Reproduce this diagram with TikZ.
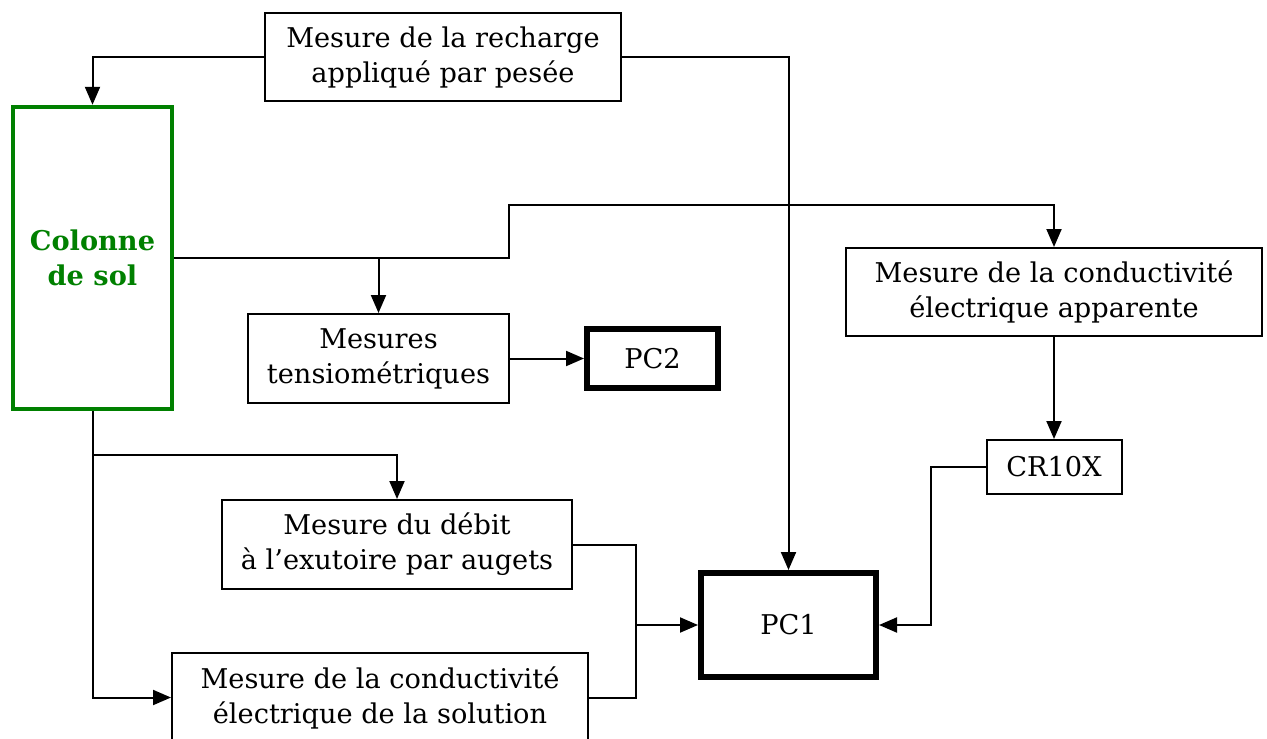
\documentclass[tikz,border=0pt]{standalone}
\usepackage{fontspec}
\setmainfont{DejaVu Serif}
\usetikzlibrary{arrows.meta}
\definecolor{soilgreen}{RGB}{0,128,0}
\begin{document}
\begin{tikzpicture}[x = 0.5pt, y = -0.5pt,
        every node/.style={font=\fontsize{13.6pt}{17.5pt}\selectfont, align=center, inner sep=0pt},
        every path/.style={-{Triangle[length=9pt,width=7.5pt]}, line width=1pt}
]
\tikzstyle{block}= [draw, rectangle, line width=1pt]
\tikzstyle{pc}= [draw, rectangle, line width=3pt]
    \useasboundingbox (0,0) rectangle (1267,738);
    \node[block, minimum width=178pt, minimum height=44pt] (recharge) at (443,57) {Mesure de la recharge\\appliqué par pesée};
    \node[draw=soilgreen, line width=2.2pt, minimum width=79.5pt, minimum height=151pt, text=soilgreen, font=\fontsize{13.6pt}{17.5pt}\selectfont\bfseries] (colonne) at (92.5,258) {Colonne\\de sol};
    \node[block, minimum width=130.5pt, minimum height=44.5pt] (tensio) at (378.5,358.5) {Mesures\\tensiométriques};
    \node[pc, minimum width=65.5pt, minimum height=29.5pt] (pc2) at (652.5,358.5) {PC2};
    \node[block, minimum width=208pt, minimum height=44pt] (apparente) at (1054,292) {Mesure de la conductivité\\électrique apparente};
    \node[block, minimum width=67.5pt, minimum height=27pt] (cr10x) at (1054,467) {CR10X};
    \node[block, minimum width=175pt, minimum height=44.5pt] (debit) at (397,544.5) {Mesure du débit\\à l’exutoire par augets};
    \node[pc, minimum width=87.5pt, minimum height=52pt] (pc1) at (788.5,625) {PC1};
    \node[block, minimum width=208pt, minimum height=44.5pt] (solution) at (380,697.5) {Mesure de la conductivité\\électrique de la solution};

    \coordinate (bend) at (509,205);
    \coordinate (split) at (92.5,455);
    \coordinate (join) at (636,625);

    \draw (recharge.west) -| (colonne.north);
    \draw (recharge.east) -| (pc1.north);
    \draw (colonne.east) -| (tensio.north);
    \draw (colonne.east) -- (colonne.east -| bend) -- (bend) -| (apparente.north);
    \draw (tensio.east) -- (pc2.west);
    \draw (apparente.south) -- (cr10x.north);
    \draw (cr10x.west) -- ++(-55,0) |- (pc1.east);
    \draw (colonne.south) -- (split) -| (debit.north);
    \draw (split) |- (solution.west);
    \draw (debit.east) -| (join) -- (pc1.west);
    \draw[-] (solution.east) -| (join);

\end{tikzpicture}
\end{document}
